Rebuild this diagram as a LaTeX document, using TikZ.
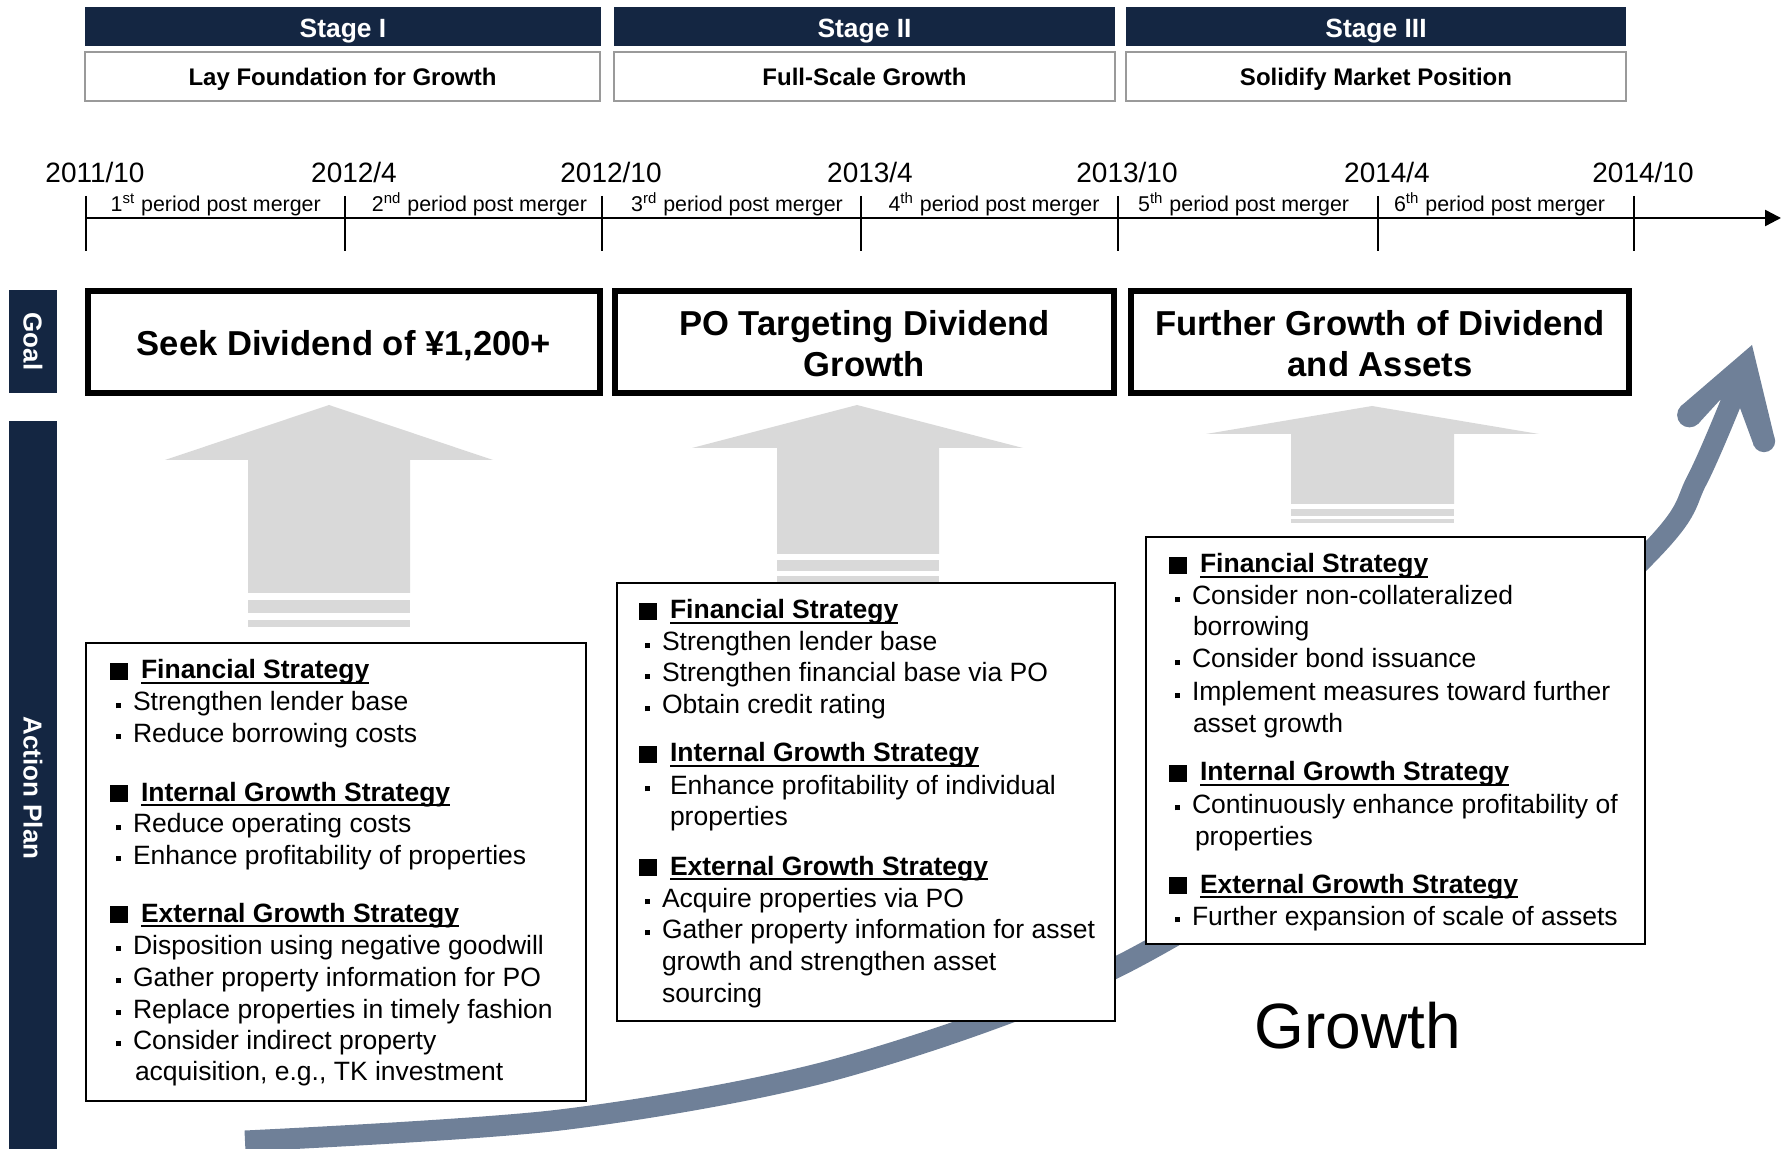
\documentclass[tikz,border=0pt]{standalone}
\usepackage{fontspec}
\setmainfont{Liberation Sans}
\usetikzlibrary{arrows.meta}
\definecolor{navy}{HTML}{142642}
\definecolor{agray}{HTML}{D9D9D9}
\definecolor{bandc}{HTML}{6F8098}
\definecolor{subline}{HTML}{9A9A9A}
\newcommand\myfs[2]{\fontsize{#1}{#2}\selectfont}
\newcommand\ulh[1]{\setbox0=\hbox{#1}\rlap{\rule[-2.6pt]{\wd0}{0.9pt}}\box0}
\newcommand\hdg[1]{\rule[-0.4pt]{9pt}{8.6pt}\hspace{6.5pt}\ulh{\bfseries #1}}
\newcommand\bul{\rule[1.3pt]{2.5pt}{2.5pt}\hspace{6pt}}
\tikzset{
  every node/.style={inner sep=0pt, outer sep=0pt},
  stagebar/.style={fill=navy, text=white, font=\bfseries\myfs{13.2}{15}, minimum height=19.5pt, text height=11pt, text depth=0pt},
  subbox/.style={draw=subline, line width=0.7pt, fill=white, font=\bfseries\myfs{12}{14}, minimum height=24.5pt, text height=8.6pt, text depth=0pt},
  datelbl/.style={anchor=base, font=\myfs{14}{16}},
  perlbl/.style={anchor=base, font=\myfs{10.7}{12}},
  goalbox/.style={draw, line width=3pt, fill=white, minimum height=51pt},
  goaltext/.style={font=\bfseries\myfs{17.3}{20.5}, align=center},
  sidebar/.style={fill=navy, minimum width=24pt},
  sidetext/.style={text=white, font=\bfseries\myfs{13}{15}, rotate=-90},
  actbox/.style={draw, line width=1.2pt, fill=white},
  ln/.style={anchor=base west, font=\myfs{13.25}{16}},
  tick/.style={line width=1pt},
}
\begin{document}
\begin{tikzpicture}[x=0.5pt,y=-0.5pt]
\useasboundingbox (0,0) rectangle (1784,1149);

% ---------- stage headers ----------
\node[stagebar, minimum width=258pt]   (st1) at (343,26.5)   {Stage I};
\node[stagebar, minimum width=250.5pt] (st2) at (864.5,26.5) {Stage II};
\node[stagebar, minimum width=250pt]   (st3) at (1376,26.5)  {Stage III};
\node[subbox, minimum width=257.5pt] (sb1) at (342.5,76.5) {Lay Foundation for Growth};
\node[subbox, minimum width=250.5pt] (sb2) at (864.5,76.5) {Full-Scale Growth};
\node[subbox, minimum width=250pt]   (sb3) at (1376,76.5)  {Solidify Market Position};

% ---------- timeline ----------
\coordinate (ax0) at (86,218);
\coordinate (ax1) at (1781,218);
\draw[line width=1.2pt, -{Triangle[length=8pt,width=8pt]}] (ax0) -- (ax1);
\foreach \x [count=\i] in {86,345,602,861,1118,1378,1634}{
  \coordinate (tkt\i) at (\x,196);
  \coordinate (tkb\i) at (\x,251);
  \draw[tick] (tkt\i) -- (tkb\i);
}
\foreach \x/\t [count=\i] in {95/2011\slash 10,354/2012\slash 4,611/2012\slash 10,870/2013\slash 4,1127/2013\slash 10,1387/2014\slash 4,1643/2014\slash 10}{
  \node[datelbl] (d\i) at (\x,182.5) {\t};
}
\node[perlbl] (p1) at (215.7,211.5) {1\textsuperscript{st} period post merger};
\node[perlbl] (p2) at (479.5,211.5) {2\textsuperscript{nd} period post merger};
\node[perlbl] (p3) at (737,211.5)   {3\textsuperscript{rd} period post merger};
\node[perlbl] (p4) at (994,211.5)   {4\textsuperscript{th} period post merger};
\node[perlbl] (p5) at (1243.6,211.5){5\textsuperscript{th} period post merger};
\node[perlbl] (p6) at (1499.5,211.5){6\textsuperscript{th} period post merger};

% ---------- side bars ----------
\node[sidebar, minimum height=51.5pt] (goalbar) at (33,341.5) {};
\node[sidetext] (goaltxt) at (33,341.5) {Goal};
\node[sidebar, minimum height=364pt] (actbar) at (33,785) {};
\node[sidetext] (acttxt) at (33,788) {Action Plan};

% ---------- goal boxes ----------
\node[goalbox, minimum width=256pt]   (g1) at (344,342)    {};
\node[goalbox, minimum width=249.5pt] (g2) at (864.5,342)  {};
\node[goalbox, minimum width=249pt]   (g3) at (1380,342)   {};
\node[goaltext] (g1t) at (344,345.5)   {Seek Dividend of ¥1,200+};
\node[goaltext] (g2t) at (864.5,343.5) {PO Targeting Dividend\\Growth};
\node[goaltext] (g3t) at (1380,343.5)  {Further Growth of Dividend\\and Assets};

% ---------- growth band ----------
\draw[bandc, line width=10.5pt] plot[smooth] coordinates {(245,1141) (560,1120) (837,1069) (1117,967) (1400,787) (1650,552) (1697,480) (1736,390)};
\fill[bandc] (1720,400) -- (1698,424) -- (1681,406) -- (1752,345) -- (1774,436) -- (1754,446) -- (1740,408) -- cycle;
\fill[bandc] (1689.5,415) circle[radius=6.2pt];
\fill[bandc] (1764,441) circle[radius=5.6pt];
\node[anchor=base, font=\myfs{32}{36}] (growth) at (1358,1048) {Growth};

% ---------- gray up arrows ----------
\fill[agray] (248,593) -- (248,460) -- (165,460) -- (329,405) -- (493,460) -- (410,460) -- (410,593) -- cycle;
\fill[agray] (248,600) rectangle (410,613);
\fill[agray] (248,620) rectangle (410,627);
\fill[agray] (777,554) -- (777,448) -- (692,448) -- (857,405) -- (1023,448) -- (939,448) -- (939,554) -- cycle;
\fill[agray] (777,560) rectangle (939,571);
\fill[agray] (777,576) rectangle (939,584);
\fill[agray] (1291,504) -- (1291,434) -- (1206,434) -- (1372,406) -- (1539,434) -- (1454,434) -- (1454,504) -- cycle;
\fill[agray] (1291,509) rectangle (1454,516);
\fill[agray] (1291,519) rectangle (1454,523);

% ---------- action boxes ----------
\node[actbox, minimum width=250pt, minimum height=229pt]   (a1) at (336,872) {};
\node[actbox, minimum width=249pt, minimum height=219pt]   (a2) at (866,802) {};
\node[actbox, minimum width=249.5pt, minimum height=203.5pt] (a3) at (1395.5,740.5) {};

\foreach \x/\y/\t [count=\i] in {
  110/679/{\hdg{Financial Strategy}},
  116/711/{\bul Strengthen lender base},
  116/742/{\bul Reduce borrowing costs},
  110/801/{\hdg{Internal Growth Strategy}},
  116/833/{\bul Reduce operating costs},
  116/864/{\bul Enhance profitability of properties},
  110/922/{\hdg{External Growth Strategy}},
  116/954/{\bul Disposition using negative goodwill},
  116/986/{\bul Gather property information for PO},
  116/1018/{\bul Replace properties in timely fashion},
  116/1049/{\bul Consider indirect property},
  135/1080/{acquisition, e.g., TK investment}}{
  \node[ln] (ta\i) at (\x,\y) {\t};
}
\foreach \x/\y/\t [count=\i] in {
  639/619/{\hdg{Financial Strategy}},
  645/651/{\bul Strengthen lender base},
  645/682/{\bul Strengthen financial base via PO},
  645/714/{\bul Obtain credit rating},
  639/762/{\hdg{Internal Growth Strategy}},
  645/794/{\bul\hspace{4pt}Enhance profitability of individual},
  670/826/{properties},
  639/875/{\hdg{External Growth Strategy}},
  645/907/{\bul Acquire properties via PO},
  645/938/{\bul Gather property information for asset},
  662/970/{growth and strengthen asset},
  662/1002/{sourcing}}{
  \node[ln] (tb\i) at (\x,\y) {\t};
}
\foreach \x/\y/\t [count=\i] in {
  1169/573/{\hdg{Financial Strategy}},
  1175/605/{\bul Consider non-collateralized},
  1193/636/{borrowing},
  1175/668/{\bul Consider bond issuance},
  1175/701/{\bul Implement measures toward further},
  1193/733/{asset growth},
  1169/781/{\hdg{Internal Growth Strategy}},
  1175/813/{\bul Continuously enhance profitability of},
  1195/845/{properties},
  1169/893/{\hdg{External Growth Strategy}},
  1175/925/{\bul Further expansion of scale of assets}}{
  \node[ln] (tc\i) at (\x,\y) {\t};
}
\end{tikzpicture}
\end{document}
